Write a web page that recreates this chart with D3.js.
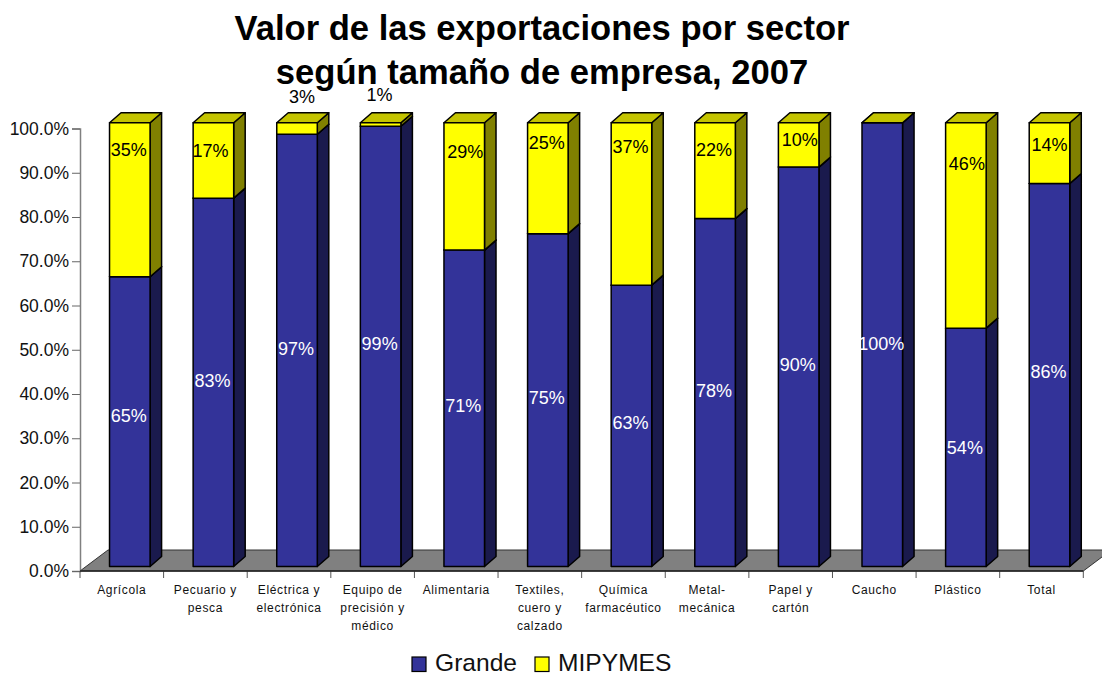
<!DOCTYPE html>
<html>
<head>
<meta charset="utf-8">
<script src="https://cdn.jsdelivr.net/npm/d3@7"></script>
<style>
  html, body { margin: 0; padding: 0; background: #fff; overflow: hidden; }
  text { font-family: "Liberation Sans", Arial, sans-serif; }
</style>
</head>
<body>
<div class="chart"></div>
<script>
var categories = ["Agrícola", "Pecuario y pesca", "Eléctrica y electrónica", "Equipo de precisión y médico",
  "Alimentaria", "Textiles, cuero y calzado", "Química farmacéutico", "Metal-mecánica",
  "Papel y cartón", "Caucho", "Plástico", "Total"];
var categoryLines = [["Agrícola"], ["Pecuario y", "pesca"], ["Eléctrica y", "electrónica"],
  ["Equipo de", "precisión y", "médico"], ["Alimentaria"], ["Textiles,", "cuero y", "calzado"],
  ["Química", "farmacéutico"], ["Metal-", "mecánica"], ["Papel y", "cartón"], ["Caucho"], ["Plástico"], ["Total"]];
var grande = [65.3, 83, 97.4, 99.2, 71.3, 75, 63.4, 78.4, 90, 100, 53.7, 86.3];
var mipymes = [34.7, 17, 2.6, 0.8, 28.7, 25, 36.6, 21.6, 10, 0, 46.3, 13.7];
var yTicks = [0, 10, 20, 30, 40, 50, 60, 70, 80, 90, 100];
var seriesNames = ["Grande", "MIPYMES"];
var titleLines = ["Valor de las exportaciones por sector", "según tamaño de empresa, 2007"];

// the data labels were dragged by hand in the original, so they carry their own offsets
var grandeLabelDy = [-6, -2, -2, -3, -3, -2, -3, -2, -2, -1, 0, -3];
var mipymesLabelDy = [-50, -10, -32, -30, -35, -35, -57, -21, -5, 0, -62, -8];
var mipymesLabelDx = [-1, -3, 5, -1, 1, -1, -1, -1, 1, 0, 1, 0];

var svgWidth = 1102;
var svgHeight = 673;
var depthX = 11.5;
var depthY = 10;

var svg = d3.select(".chart")
  .append("svg")
  .attr("width", svgWidth)
  .attr("height", svgHeight)
  .style("display", "block");

var xScale = d3.scaleBand()
  .domain(categories)
  .range([80, 1083.3])
  .paddingInner(0.515)
  .paddingOuter(0.2575);

var yAxisScale = d3.scaleLinear().domain([0, 100]).range([571, 128.5]);
var yBar = d3.scaleLinear().domain([0, 100]).range([566.5, 122.7]);

var barShift = 8;
var colors = {
  Grande: { front: "#333399", side: "#1a1a4d", top: "#29297a" },
  MIPYMES: { front: "#ffff00", side: "#808000", top: "#c4c400" }
};

// floor
var floorBack = 550;
var floorFront = yAxisScale(0);
var floorDx = 28;
svg.append("polygon")
  .attr("points", [
    [80, floorFront],
    [80 + floorDx, floorBack],
    [1083.3 + floorDx, floorBack],
    [1083.3, floorFront]
  ].join(" "))
  .attr("fill", "#808080")
  .attr("stroke", "#333")
  .attr("stroke-width", 1);

// y axis
var yAxis = svg.append("g")
  .attr("transform", "translate(80,0)")
  .call(d3.axisLeft(yAxisScale)
    .tickValues(yTicks)
    .tickSize(8)
    .tickPadding(3)
    .tickFormat(d => d3.format(".1f")(d) + "%"));
yAxis.select(".domain").attr("stroke", "#808080").attr("stroke-width", 1.5);
yAxis.selectAll(".tick line").attr("stroke", "#666");
yAxis.selectAll(".tick text")
  .attr("fill", "#111")
  .style("font-family", "'Liberation Sans', Arial, sans-serif")
  .style("font-size", "17.5px");

// x axis ticks sit on the band edges, so draw them from the band step
var xAxisGroup = svg.append("g");
var edges = categories.map(c => xScale(c) - xScale.step() * 0.2575)
  .concat([1083.3]);
xAxisGroup.selectAll("line")
  .data(edges)
  .enter()
  .append("line")
  .attr("x1", d => d)
  .attr("x2", d => d)
  .attr("y1", floorFront)
  .attr("y2", floorFront + 7)
  .attr("stroke", "#555");
xAxisGroup.append("line")
  .attr("x1", 80)
  .attr("x2", 1083.3)
  .attr("y1", floorFront)
  .attr("y2", floorFront)
  .attr("stroke", "#222")
  .attr("stroke-width", 1.5);

// bars
var stacks = categories.map(function(c, i) {
  return [
    { cat: c, name: "Grande", y0: 0, y1: grande[i], i: i },
    { cat: c, name: "MIPYMES", y0: grande[i], y1: grande[i] + mipymes[i], i: i }
  ];
});

var barWidth = xScale.bandwidth();

var barGroups = svg.selectAll(".bar")
  .data(stacks)
  .enter()
  .append("g")
  .attr("class", "bar")
  .attr("transform", d => `translate(${xScale(d[0].cat) + barShift},0)`);

var segments = barGroups.selectAll("g")
  .data(d => d)
  .enter()
  .append("g")
  .attr("stroke", "#000")
  .attr("stroke-width", 1.5)
  .attr("stroke-linejoin", "round");

segments.append("polygon")
  .attr("fill", d => colors[d.name].side)
  .attr("points", function(d) {
    var t = yBar(d.y1), b = yBar(d.y0);
    return [[barWidth, t], [barWidth + depthX, t - depthY], [barWidth + depthX, b - depthY], [barWidth, b]].join(" ");
  });

segments.append("polygon")
  .attr("fill", d => colors[d.name].top)
  .attr("points", function(d) {
    var t = yBar(d.y1);
    return [[0, t], [depthX, t - depthY], [barWidth + depthX, t - depthY], [barWidth, t]].join(" ");
  });

segments.append("rect")
  .attr("x", 0)
  .attr("width", barWidth)
  .attr("y", d => yBar(d.y1))
  .attr("height", d => yBar(d.y0) - yBar(d.y1))
  .attr("fill", d => colors[d.name].front);

// data labels
var labelSize = "18px";
svg.selectAll(".label-grande")
  .data(grande)
  .enter()
  .append("text")
  .attr("class", "label-grande")
  .attr("x", (d, i) => xScale(categories[i]) + barShift + barWidth / 2 - 1)
  .attr("y", (d, i) => (yBar(0) + yBar(d)) / 2 + grandeLabelDy[i])
  .attr("dy", "0.35em")
  .attr("text-anchor", "middle")
  .attr("fill", "#fff")
  .style("font-size", labelSize)
  .text(d => d3.format(".0f")(d) + "%");

var mipymesLabels = mipymes.map((v, i) => ({ v: v, i: i })).filter(d => d.v > 0);

svg.selectAll(".label-mipymes")
  .data(mipymesLabels)
  .enter()
  .append("text")
  .attr("class", "label-mipymes")
  .attr("x", d => xScale(categories[d.i]) + barShift + barWidth / 2 + mipymesLabelDx[d.i])
  .attr("y", d => (yBar(grande[d.i]) + yBar(grande[d.i] + d.v)) / 2 + mipymesLabelDy[d.i])
  .attr("dy", "0.35em")
  .attr("text-anchor", "middle")
  .attr("fill", "#000")
  .style("font-size", labelSize)
  .text(d => d3.format(".0f")(d.v) + "%");

// category labels
var catLabels = svg.selectAll(".cat")
  .data(categoryLines)
  .enter()
  .append("text")
  .attr("class", "cat")
  .attr("text-anchor", "middle")
  .attr("fill", "#111")
  .style("font-size", "12px")
  .style("letter-spacing", "0.65px");

catLabels.selectAll("tspan")
  .data((d, i) => d.map(line => ({ line: line, i: i })))
  .enter()
  .append("tspan")
  .attr("x", d => xScale(categories[d.i]) + xScale.bandwidth() / 2)
  .attr("y", (d, j) => 594 + j * 18)
  .text(d => d.line);

// title
svg.selectAll(".title")
  .data(titleLines)
  .enter()
  .append("text")
  .attr("class", "title")
  .attr("x", 542)
  .attr("y", (d, i) => 39.5 + i * 44)
  .attr("text-anchor", "middle")
  .attr("fill", "#000")
  .style("font-size", "34.6px")
  .style("font-weight", "bold")
  .text(d => d);

// legend
var legendX = [412, 535];
var legend = svg.selectAll(".legend")
  .data(seriesNames)
  .enter()
  .append("g")
  .attr("class", "legend")
  .attr("transform", (d, i) => `translate(${legendX[i]},657)`);

legend.append("rect")
  .attr("width", 14)
  .attr("height", 14.5)
  .attr("fill", d => colors[d].front)
  .attr("stroke", "#000")
  .attr("stroke-width", 1.2);

legend.append("text")
  .attr("x", 23)
  .attr("y", 14)
  .attr("fill", "#111")
  .style("font-size", "24.6px")
  .text(d => d);
</script>
</body>
</html>
